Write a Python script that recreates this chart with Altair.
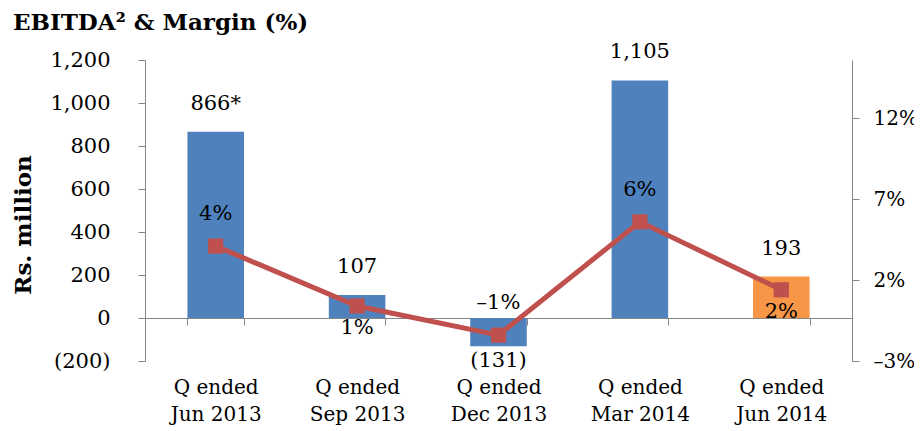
import altair as alt
import pandas as pd

# ---- data ----
quarters = ["Q ended\nJun 2013", "Q ended\nSep 2013", "Q ended\nDec 2013",
            "Q ended\nMar 2014", "Q ended\nJun 2014"]
ebitda = [866, 107, -131, 1105, 193]
ebitda_labels = ["866*", "107", "(131)", "1,105", "193"]
margin = [4.1, 0.4, -1.4, 5.6, 1.4]
margin_labels = ["4%", "1%", "\u20131%", "6%", "2%"]
margin_label_side = ["above", "below", "above", "above", "below"]
left_ticks = [-200, 0, 200, 400, 600, 800, 1000, 1200]
right_ticks = [-3, 2, 7, 12]

LEFT_DOMAIN = [-200, 1200]
RIGHT_DOMAIN = [-3, 15.6]

df = pd.DataFrame({
    "quarter": quarters,
    "ebitda": ebitda,
    "ebitda_label": ebitda_labels,
    "margin": margin,
    "margin_label": margin_labels,
    "side": margin_label_side,
})

W, H = 707, 301
FONT = "DejaVu Serif"
BLUE, ORANGE, RED, GREY = "#4F81BD", "#F79646", "#C0504D", "#868686"

zero_offset = -H * (0 - LEFT_DOMAIN[0]) / (LEFT_DOMAIN[1] - LEFT_DOMAIN[0])

x_enc = alt.X(
    "quarter:N", sort=quarters, title=None,
    scale=alt.Scale(paddingInner=0.6, paddingOuter=0.3),
    axis=alt.Axis(
        labelExpr="split(datum.label, '\\n')", labelAngle=0,
        offset=zero_offset, tickBand="extent",
        labelPadding=52, labelLineHeight=27, tickSize=7, labelFontSize=20,
        labelFlush=False, labelOverlap=False,
    ),
)

y_left_scale = alt.Scale(domain=LEFT_DOMAIN, nice=False)
y_right_scale = alt.Scale(domain=RIGHT_DOMAIN, nice=False)

bars = alt.Chart(df).mark_bar().encode(
    x=x_enc,
    y=alt.Y("ebitda:Q", scale=y_left_scale, title="Rs. million",
            axis=alt.Axis(
                values=left_ticks,
                labelExpr="datum.value < 0 ? '(' + format(-datum.value, ',') + ')' : format(datum.value, ',')",
                labelPadding=28, tickSize=7, titleAngle=-90, labelFontSize=21,
                titleX=-122, titleY=H / 2 + 14, titleAlign="center",
                titleBaseline="middle", titleFontWeight="bold", titleFontSize=23,
            )),
    color=alt.condition(alt.datum.quarter == quarters[-1],
                        alt.value(ORANGE), alt.value(BLUE)),
)

bar_text_pos = alt.Chart(df).transform_filter(alt.datum.ebitda >= 0).mark_text(
    fontSize=21, font=FONT, dy=-28, baseline="middle"
).encode(x=x_enc, y=alt.Y("ebitda:Q", scale=y_left_scale), text="ebitda_label:N")

bar_text_neg = alt.Chart(df).transform_filter(alt.datum.ebitda < 0).mark_text(
    fontSize=21, font=FONT, dy=15, baseline="middle"
).encode(x=x_enc, y=alt.Y("ebitda:Q", scale=y_left_scale), text="ebitda_label:N")

left = alt.layer(bars, bar_text_pos, bar_text_neg)

y_right = alt.Y("margin:Q", scale=y_right_scale, title=None,
                axis=alt.Axis(values=right_ticks, orient="right", labelFontSize=20,
                              labelExpr="(datum.value < 0 ? '\u2013' + (-datum.value) : datum.value) + '%'",
                              labelPadding=14, tickSize=7))

line = alt.Chart(df).mark_line(color=RED, strokeWidth=5).encode(x=x_enc, y=y_right)
points = alt.Chart(df).mark_square(color=RED, size=230, opacity=1).encode(x=x_enc, y=y_right)
m_above = alt.Chart(df).transform_filter(alt.datum.side == "above").mark_text(
    fontSize=21, font=FONT, dy=-32, baseline="middle"
).encode(x=x_enc, y=y_right, text="margin_label:N")
m_below = alt.Chart(df).transform_filter(alt.datum.side == "below").mark_text(
    fontSize=21, font=FONT, dy=22, baseline="middle"
).encode(x=x_enc, y=y_right, text="margin_label:N")

right = alt.layer(line, points, m_above, m_below)

chart = alt.layer(left, right).resolve_scale(y="independent").properties(
    width=W, height=H,
    title=alt.Title("EBITDA\u00b2 & Margin (%)", anchor="start", dx=1,
                    fontSize=23, font=FONT, fontWeight="bold", color="black",
                    offset=6),
    autosize=alt.AutoSizeParams(type="none"),
    padding={"left": 137, "top": 52, "right": 62, "bottom": 66},
).configure_view(stroke=None).configure_axis(
    grid=False, domainColor=GREY, tickColor=GREY, labelFont=FONT,
    labelFontSize=19, labelColor="black", titleFont=FONT, titleColor="black",
)

chart.save("out.html", embed_options={"renderer": "svg", "actions": False})
